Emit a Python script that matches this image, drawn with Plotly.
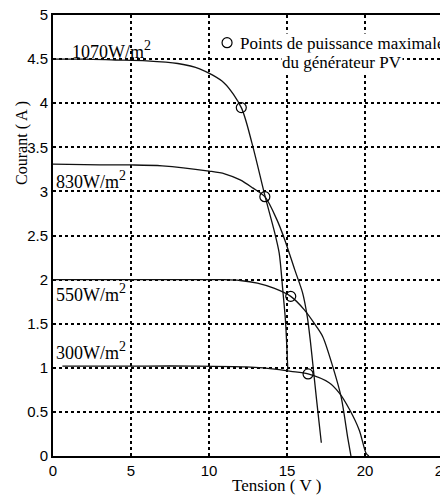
import plotly.graph_objects as go

# ---- data ----
v_1070 = [0, 2, 4, 6, 8, 9.4, 10.97, 12.07, 12.75, 13.6, 14.17, 14.5, 14.73, 14.9, 15.0, 15.05]
i_1070 = [4.5, 4.5, 4.49, 4.48, 4.45, 4.39, 4.23, 3.95, 3.55, 2.94, 2.56, 2.3, 1.88, 1.54, 1.2, 0.98]

v_830 = [0, 3, 5, 7, 10, 11, 12, 12.8, 13.58, 14.35, 14.86, 15.5, 16.0, 16.3, 16.5, 16.68, 16.9, 17.2]
i_830 = [3.31, 3.3, 3.3, 3.29, 3.23, 3.2, 3.13, 3.04, 2.94, 2.68, 2.45, 2.11, 1.85, 1.58, 1.3, 1.0, 0.63, 0.15]

v_550 = [0, 5, 10, 11, 12, 13.1, 14.2, 15.24, 16.1, 16.88, 17.3, 17.94, 18.47, 18.9, 19.1]
i_550 = [2.0, 2.0, 2.0, 2.0, 1.99, 1.96, 1.9, 1.81, 1.66, 1.47, 1.35, 1.01, 0.67, 0.2, 0.0]

v_300 = [0.6, 3, 6, 9, 12.4, 14.5, 15.25, 16.35, 17.7, 18.37, 19.0, 19.64, 20.07, 20.25]
i_300 = [1.02, 1.02, 1.02, 1.02, 1.01, 0.98, 0.96, 0.93, 0.83, 0.71, 0.53, 0.29, 0.03, 0.0]

v_mpp = [12.07, 13.58, 15.24, 16.35]
i_mpp = [3.95, 2.94, 1.81, 0.93]

SUP2 = "<sup><span style='font-size:14px'>2</span></sup>"
curve_labels = ["1070W/m" + SUP2, "830W/m" + SUP2, "550W/m" + SUP2, "300W/m" + SUP2]
label_x = [1.1, 0.05, 0.05, 0.05]
label_y = [4.6, 3.13, 1.85, 1.19]

x_ticks = [0, 5, 10, 15, 20, 25]
y_ticks = [0, 0.5, 1, 1.5, 2, 2.5, 3, 3.5, 4, 4.5, 5]
y_ticktext = ["0", "0.5", "1", "1.5", "2", "2.5", "3", "3.5", "4", "4.5", "5"]

legend_line1 = "Points de puissance maximale"
legend_line2 = "du générateur PV"

SERIF = "Liberation Serif, Times New Roman, serif"
NARROW = "Liberation Sans Narrow, Arial Narrow, Liberation Sans, Arial, sans-serif"

fig = go.Figure()
for vx, iy in [(v_1070, i_1070), (v_830, i_830), (v_550, i_550), (v_300, i_300)]:
    fig.add_trace(go.Scatter(x=vx, y=iy, mode="lines",
                             line=dict(color="#111111", width=1.3, shape="spline", smoothing=0.8),
                             showlegend=False, hoverinfo="skip"))

fig.add_trace(go.Scatter(x=v_mpp, y=i_mpp, mode="markers",
                         marker=dict(symbol="circle-open", size=10, color="black", line=dict(width=1.2)),
                         name=" ", showlegend=True))

for t, lx, ly in zip(curve_labels, label_x, label_y):
    fig.add_annotation(x=lx, y=ly, text=t, showarrow=False, xanchor="left", yanchor="middle",
                       font=dict(family=SERIF, size=18, color="black"))

fig.add_annotation(xref="paper", yref="paper", x=0.477, y=0.9365, text=legend_line1,
                   showarrow=False, xanchor="left", yanchor="middle", bgcolor="white",
                   borderpad=0, font=dict(family=SERIF, size=17, color="black"))
fig.add_annotation(xref="paper", yref="paper", x=0.740, y=0.893, text=legend_line2,
                   showarrow=False, xanchor="center", yanchor="middle", bgcolor="white",
                   borderpad=0, font=dict(family=SERIF, size=17, color="black"))

fig.add_annotation(xref="paper", yref="paper", x=-0.0795, y=0.71, text="Courant ( A )",
                   textangle=-90, showarrow=False, xanchor="center", yanchor="middle",
                   font=dict(family=SERIF, size=16, color="black"))
fig.add_annotation(xref="paper", yref="paper", x=0.574, y=-0.066, text="Tension ( V )",
                   showarrow=False, xanchor="center", yanchor="middle",
                   font=dict(family=SERIF, size=17, color="black"))

axis_common = dict(showline=True, mirror=True, linecolor="black", linewidth=2,
                   showgrid=True, gridcolor="black", gridwidth=1.5, griddash="dot",
                   zeroline=False, ticks="", ticklabeloverflow="allow", automargin=False,
                   tickfont=dict(family=NARROW, size=15, color="black"))

fig.update_xaxes(range=[0, 25], tickvals=x_ticks, **axis_common)
fig.update_yaxes(range=[0, 5], tickvals=y_ticks, ticktext=y_ticktext, **axis_common)

fig.update_layout(
    width=440, height=489,
    margin=dict(l=45, r=5, t=7, b=41),
    paper_bgcolor="white", plot_bgcolor="white",
    legend=dict(x=0.395, y=0.977, xanchor="left", yanchor="top", bgcolor="rgba(0,0,0,0)",
                borderwidth=0, font=dict(family=SERIF, size=17, color="black"),
                itemwidth=30, tracegroupgap=0),
)

fig.write_html("out.html")
